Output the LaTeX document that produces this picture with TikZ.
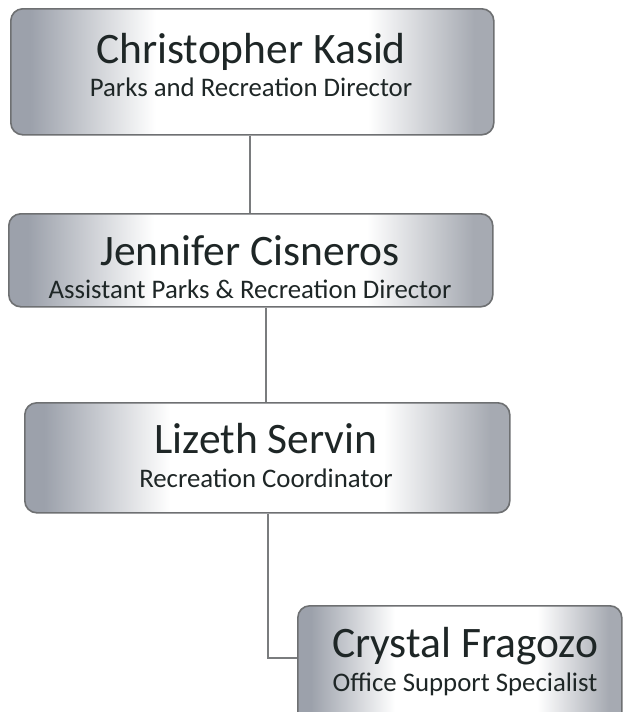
\documentclass[tikz,border=0pt]{standalone}
\usepackage{fontspec}
\setmainfont{Carlito}
\usetikzlibrary{positioning}

\definecolor{edgegray}{HTML}{6E7072}
\definecolor{linkgray}{HTML}{7A7C7E}
\definecolor{steel}{HTML}{9CA1AB}
\definecolor{steelr}{HTML}{A6AAB2}
\definecolor{inkdark}{HTML}{1E2626}

% silver bar: grey at both ends, bright band through the middle
\pgfdeclarehorizontalshading{silverbar}{100bp}{%
  color(0bp)=(steel); color(27bp)=(steel); color(40bp)=(white);
  color(62bp)=(white); color(73bp)=(steelr); color(100bp)=(steelr)}

\tikzset{
  card/.style={draw=edgegray, line width=1.6pt, rounded corners=12pt,
    shading=silverbar, inner sep=0pt, anchor=north west},
  person/.style={anchor=base, text=inkdark, font=\fontsize{43.5}{48}\selectfont, inner sep=0pt},
  role/.style={anchor=base, text=inkdark, font=\fontsize{26.8}{30}\selectfont, inner sep=0pt},
  link/.style={draw=linkgray, line width=2pt}
}

\begin{document}
\begin{tikzpicture}[x=1pt, y=-1pt]
\clip (0,0) rectangle (625,712);
\fill[white] (0,0) rectangle (625,712);

% boxes
\node[card, minimum width=483pt, minimum height=126pt] (b1) at (10,8) {};
\node[card, minimum width=484pt, minimum height=93pt]  (b2) at (8,213) {};
\node[card, minimum width=485pt, minimum height=110pt] (b3) at (24,402) {};
\node[card, minimum width=324pt, minimum height=125pt] (b4) at (297,605) {};

% titles
\node[person] (n1) at (251,63) {Christopher Kasid};
\node[role]   (r1) at (251,96) {Parks and Recreation Director};
\node[person] (n2) at (250,265) {Jennifer Cisneros};
\node[role]   (r2) at (250,298) {Assistant Parks \& Recreation Director};
\node[person] (n3) at (266,453) {Lizeth Servin};
\node[role]   (r3) at (266,487) {Recreation Coordinator};
\node[person] (n4) at (465,657) {Crystal Fragozo};
\node[role]   (r4) at (465,691) {Office Support Specialist};

% reporting lines
\coordinate (k3) at (268,658);
\draw[link] (b1.south -| 250,0) -- (b2.north -| 250,0);
\draw[link] (b2.south -| 266,0) -- (b3.north -| 266,0);
\draw[link] (b3.south -| k3) -- (k3) -- (k3 -| b4.west);
\end{tikzpicture}
\end{document}
